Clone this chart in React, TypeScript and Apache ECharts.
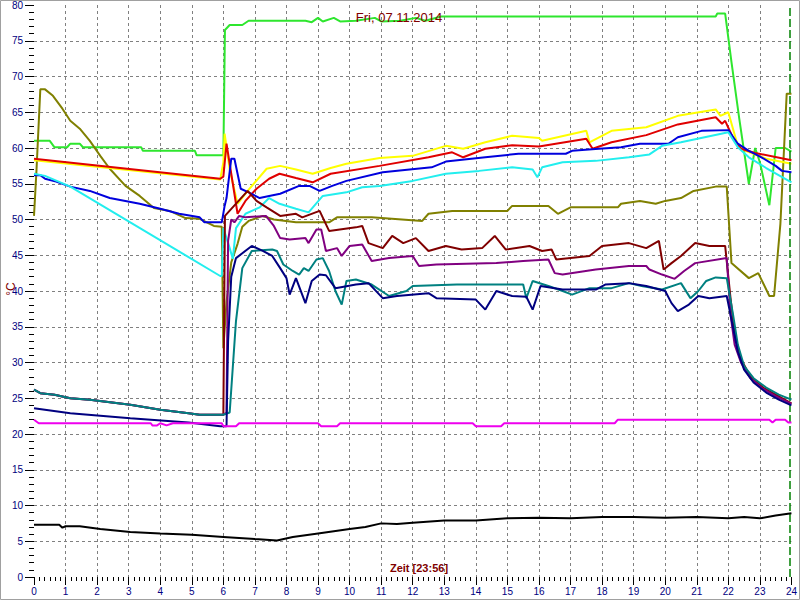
import React, { useEffect, useRef } from "react";
import * as echarts from "echarts";

const titleText = "Fri, 07.11.2014";
const xName = "Zeit [23:56]";
const yName = "°C";
const nowHour = 23.95;

const green = [[0,61],[0.5,61],[0.65,60.1],[1.05,60.1],[1.15,60.6],[1.45,60.6],[1.55,60.1],[3.4,60.1],[3.45,59.6],[5.1,59.6],[5.15,59],[6.0,59],[6.05,76.5],[6.2,77.2],[6.6,77.2],[6.8,77.8],[8.6,77.8],[8.8,77.6],[9.0,78.2],[9.15,77.7],[9.5,78.2],[9.7,77.7],[10.2,77.8],[10.8,78.2],[11.0,77.7],[11.6,77.8],[12.1,78.2],[12.4,77.8],[12.9,78.4],[21.6,78.4],[21.65,78.8],[21.9,78.8],[22.1,72],[22.35,64],[22.65,55],[22.85,60],[23.0,58],[23.3,52],[23.5,60],[23.8,60],[24,59.5]];
const olive = [[0,50.5],[0.08,57],[0.2,68.2],[0.35,68.2],[0.6,67.3],[0.9,65.5],[1.15,63.8],[1.45,62.7],[1.77,61],[2.1,58.9],[2.4,57.1],[2.9,54.7],[3.35,53.3],[3.8,51.6],[4.3,51.2],[4.8,50.2],[5.25,50.1],[5.7,49.1],[5.95,49],[6.0,32],[6.1,38.5],[6.25,44],[6.45,46.6],[6.6,49],[6.8,49.8],[7.25,50.5],[7.6,50],[8.3,49.6],[9.35,49.6],[9.6,50.3],[10.7,50.3],[12.3,49.8],[12.5,50.8],[13.25,51.2],[15,51.2],[15.15,51.9],[16.3,51.9],[16.6,50.8],[17,51.7],[18.5,51.7],[18.6,52.2],[19.2,52.6],[19.7,52.2],[20,52.6],[20.5,53],[20.9,54],[21.6,54.6],[21.95,54.6],[22.1,43.9],[22.65,41.8],[22.95,42.5],[23.3,39.3],[23.45,39.3],[23.65,49.4],[23.85,67.6],[24,67.6]];
const yellow = [[0,58.3],[5.9,55.6],[6.0,58],[6.04,62],[6.2,57],[6.45,52.2],[6.77,54],[7.37,57.1],[7.8,57.5],[8.3,57],[8.83,56.4],[9.4,57.2],[9.9,57.8],[10.95,58.6],[12,58.9],[13.05,60.3],[13.6,59.9],[14.3,60.8],[15.15,61.7],[16,61.4],[16.1,61],[17.5,62.4],[17.6,60.8],[18.3,62.4],[19.4,62.9],[20.4,64.5],[21.6,65.4],[21.75,64.5],[22,65],[22.3,60.3],[22.55,59.6],[23.2,58.5],[24,57.8]];
const red = [[0,58.5],[5.9,55.7],[6.0,56],[6.1,60.6],[6.45,50.8],[6.7,52.6],[7.05,54.3],[7.45,55.7],[7.78,56.4],[8.3,55.8],[8.83,55.2],[9.4,56.4],[10.95,57.5],[12.5,58.7],[13.25,59.4],[13.6,58.7],[14.3,59.9],[15.15,60.4],[16,60.2],[17.5,61.3],[17.7,59.9],[18.3,60.8],[19.4,61.8],[20.4,63.3],[21.6,64.3],[21.8,63.4],[21.9,63.8],[22.15,61.4],[22.4,59.9],[22.85,59.3],[24,58.3]];
const blue = [[0,56.2],[0.2,56.2],[0.35,55.7],[0.7,55.3],[1.15,54.6],[1.77,54],[2.4,53],[3.35,52.2],[4,51.5],[4.6,50.8],[5.25,50.3],[5.4,49.6],[5.95,49.6],[6.04,51.9],[6.1,53],[6.25,58.5],[6.35,58.5],[6.55,54.3],[6.8,53.8],[7.15,53],[7.45,53.3],[7.8,53.6],[8.4,54.7],[8.73,54.7],[9.05,54],[9.45,54.7],[9.9,55.4],[11.05,56.6],[12.6,57.3],[13.05,58.1],[14.3,58.7],[15.35,59.2],[16.85,59.2],[17.05,59.6],[17.9,59.9],[18.6,60.1],[19.2,60.6],[20.1,60.6],[20.4,61.5],[21.15,62.4],[22,62.5],[22.3,60.6],[22.65,59.6],[23.05,58.7],[23.5,57.5],[23.7,56.8],[24,56.6]];
const cyan = [[0,56.4],[0.35,56.1],[1.15,54.6],[5.9,42.1],[5.95,42.1],[6.0,48.8],[6.2,46],[6.3,44.5],[6.4,48.8],[6.7,50.8],[7.15,51.7],[7.45,53],[7.78,52.2],[8.3,51.5],[8.7,51],[9.15,53.3],[9.9,53.8],[10.4,54.5],[10.95,54.7],[12,55.4],[13.05,56.4],[14.1,56.8],[15.15,57.3],[15.8,57],[15.95,55.9],[16.1,57.3],[16.75,58],[17.8,58.2],[18.85,58.7],[19.5,59.1],[19.9,60.3],[20.5,60.8],[22,62.2],[22.3,60.1],[22.65,58.7],[23.2,57.2],[24,55.2]];
const maroon = [[0,26.2],[0.2,25.7],[0.65,25.5],[1.15,25],[1.77,24.8],[3.05,24.1],[4,23.4],[4.9,22.9],[5.25,22.7],[6.0,22.7],[6.05,50.5],[6.77,54],[7.05,52.6],[7.37,51.7],[7.8,50.5],[8.3,50.8],[8.5,50.3],[9.05,51.2],[9.35,48.4],[10.2,48.9],[10.4,49.1],[10.6,46.7],[11.05,46],[11.35,47.7],[11.7,46.7],[12.1,47.4],[12.5,45.6],[13.05,46.3],[13.55,45.8],[14.2,46],[14.6,47.7],[14.95,45.8],[15.7,46.3],[16.1,45.6],[16.4,45.8],[16.55,44.4],[17.6,44.9],[18,46.3],[18.85,46.7],[19.4,46],[19.8,47],[19.95,43],[20.2,43.9],[20.5,44.9],[20.95,46.7],[21.4,46.3],[21.9,46.3],[22.07,39],[22.2,34],[22.4,30.5],[22.7,28],[23.1,26.5],[23.5,25.5],[24,24.3]];
const purple = [[0,26.2],[0.2,25.7],[0.65,25.5],[1.15,25],[1.77,24.8],[3.05,24.1],[4,23.4],[4.9,22.9],[5.25,22.7],[6.0,22.7],[6.1,23],[6.15,47],[6.25,50],[6.35,49.6],[6.5,50.5],[6.7,50.3],[7.35,50.5],[7.6,49.1],[7.8,47.4],[8.1,47.2],[8.6,47.4],[8.7,46.7],[8.95,48.6],[9.1,48.6],[9.25,45.6],[9.6,46],[9.75,44.9],[10,46.3],[10.4,46.5],[10.7,44.2],[11.25,44.6],[12,44.9],[12.2,43.5],[12.75,43.7],[14.65,43.9],[15.5,44.2],[16.3,44.4],[16.5,42.5],[16.75,42.3],[17.8,43],[18.85,43.5],[19.4,43.5],[19.5,43],[19.9,42.3],[20.3,41.7],[20.6,42.8],[20.95,43.9],[21.95,44.6],[22.07,36.7],[22.2,32.5],[22.4,30],[22.7,27.8],[23.1,26.3],[23.5,25.3],[24,24.2]];
const teal = [[0,26.2],[0.2,25.7],[0.65,25.5],[1.15,25],[1.77,24.8],[3.05,24.1],[4,23.4],[4.9,22.9],[5.25,22.7],[6.0,22.7],[6.2,23],[6.4,35.8],[6.6,43.2],[6.9,45.6],[7.55,45.8],[7.7,45.6],[7.9,43.7],[8.2,42.8],[8.4,42.3],[8.55,43.2],[8.7,42.8],[8.95,44.4],[9.15,44.6],[9.35,42.8],[9.55,40],[9.75,38.1],[9.9,41.4],[10.2,41.6],[10.7,40.9],[11.25,39.3],[11.8,40],[12,40.7],[13.4,40.9],[15.5,40.9],[15.6,39],[15.8,41.4],[16.3,40.7],[16.75,40],[17.05,39.5],[17.6,40.4],[18.3,40.4],[18.85,41.1],[19.25,40.7],[19.9,40.2],[20.5,41.1],[20.8,39],[21.05,40],[21.3,41.4],[21.6,41.9],[21.95,41.8],[22.15,36.7],[22.3,32.5],[22.5,29.5],[22.8,27.8],[23.2,26.5],[23.6,25.5],[24,24.8]];
const navy = [[0,23.6],[1.15,22.9],[3.05,22.2],[4.9,21.6],[5.9,21.1],[6.1,21.1],[6.15,33],[6.25,42],[6.4,44.6],[6.9,46.3],[7.25,45.6],[7.55,44.9],[7.8,43.2],[8,41.8],[8.1,39.5],[8.3,41.8],[8.6,38.3],[8.8,41.4],[9.05,42.3],[9.25,42.2],[9.55,40.4],[10.2,40.9],[10.6,41.1],[11.05,39],[11.5,39.3],[12.5,39.7],[12.75,39],[14,38.8],[14.3,37.4],[14.65,40],[15.15,39.3],[15.6,39.2],[15.8,37.4],[16.05,40.7],[16.75,40.2],[17.8,40.2],[18.1,40.9],[18.85,41.1],[19.4,40.7],[20,40],[20.2,38.3],[20.4,37.2],[20.75,38.1],[21.05,39.3],[21.4,39],[21.95,39.3],[22.1,36],[22.3,31.5],[22.5,29],[22.8,27.2],[23.2,25.8],[23.6,24.8],[24,24]];
const magenta = [[0,22],[0.15,21.5],[3.7,21.5],[3.75,21.2],[3.9,21.2],[4.0,21.5],[4.2,21.2],[4.4,21.5],[5.95,21.5],[6.0,21.1],[6.4,21.1],[6.5,21.5],[9.0,21.5],[9.1,21.1],[9.6,21.1],[9.7,21.5],[13.9,21.5],[14.0,21.1],[14.8,21.1],[14.9,21.5],[18.4,21.5],[18.5,22],[23.3,22],[23.4,21.6],[23.5,22],[23.8,22],[23.9,21.6],[24,21.6]];
const black = [[0,7.3],[0.8,7.3],[0.9,6.9],[1,7.1],[1.45,7.1],[2.1,6.7],[3.05,6.3],[4,6.1],[5,5.9],[6,5.6],[7,5.3],[7.7,5.1],[8.2,5.6],[9,6.1],[10,6.7],[10.5,7],[11,7.5],[11.5,7.4],[12,7.6],[13,7.9],[14,7.9],[15,8.2],[16,8.3],[17,8.2],[18,8.4],[19,8.4],[20,8.3],[21,8.4],[22,8.2],[22.5,8.4],[23,8.2],[23.5,8.6],[24,8.9]];

const seriesList: [string, number[][], string][] = [
  ["S1", green, "#2ee62e"],
  ["S2", olive, "#808000"],
  ["S3", yellow, "#ffff00"],
  ["S4", red, "#e00000"],
  ["S5", blue, "#0000dd"],
  ["S6", cyan, "#22eeee"],
  ["S7", maroon, "#800000"],
  ["S8", purple, "#800080"],
  ["S9", teal, "#008080"],
  ["S10", navy, "#000080"],
  ["S11", magenta, "#ee00ee"],
  ["S12", black, "#000000"],
];

export default function App() {
  const ref = useRef<HTMLDivElement>(null);
  useEffect(() => {
    if (!ref.current) return;
    const chart = echarts.init(ref.current, null, { renderer: "svg" });
    const font = "Liberation Sans";
    const series: any[] = seriesList.map(([name, data, color], i) => ({
      name,
      type: "line",
      data,
      showSymbol: false,
      lineStyle: { color, width: 2 },
      itemStyle: { color },
      z: 2 + i,
      ...(i === seriesList.length - 1
        ? {
            markLine: {
              silent: true,
              symbol: "none",
              label: { show: false },
              lineStyle: { color: "#008000", type: [8, 3], width: 1.5 },
              data: [{ xAxis: nowHour }],
            },
          }
        : {}),
    }));
    chart.setOption({
      animation: false,
      backgroundColor: "#ffffff",
      grid: { left: 34, right: 7, top: 5, bottom: 23 },
      xAxis: {
        type: "value",
        min: 0,
        max: 24,
        interval: 1,
        axisLine: { show: false },
        axisTick: { show: true, length: 8, lineStyle: { color: "#000" } },
        minorTick: { show: true, splitNumber: 6, length: 4, lineStyle: { color: "#000" } },
        axisLabel: { color: "#000080", fontSize: 10, fontFamily: font, margin: 9 },
        splitLine: { show: true, showMinLine: false, showMaxLine: false, lineStyle: { color: "#808080", type: [3, 3], width: 1 } },
      },
      yAxis: {
        type: "value",
        min: 0,
        max: 80,
        interval: 5,
        axisLine: { show: false },
        axisTick: { show: true, length: 9, lineStyle: { color: "#000" } },
        minorTick: { show: true, splitNumber: 5, length: 5, lineStyle: { color: "#000" } },
        axisLabel: { color: "#000080", fontSize: 10, fontFamily: font, margin: 11 },
        splitLine: { show: true, showMinLine: false, showMaxLine: false, lineStyle: { color: "#808080", type: [3, 3], width: 1 } },
      },
      graphic: [
        {
          type: "rect",
          z: 200,
          silent: true,
          shape: { x: 0.5, y: 0.5, width: 799, height: 599 },
          style: { fill: "none", stroke: "#a0a0a0", lineWidth: 1 },
        },
        {
          type: "text",
          x: 399,
          y: 17,
          z: 200,
          style: { text: titleText, fill: "#800000", fontSize: 13, fontFamily: font, align: "center", verticalAlign: "middle" },
        },
        {
          type: "text",
          x: 419,
          y: 568,
          z: 200,
          style: { text: xName, fill: "#800000", fontSize: 11, fontWeight: "bold", fontFamily: font, align: "center", verticalAlign: "middle" },
        },
        {
          type: "text",
          x: 11,
          y: 289,
          rotation: Math.PI / 2,
          z: 200,
          style: { text: yName, fill: "#800000", fontSize: 12, fontFamily: font, align: "center", verticalAlign: "middle" },
        },
      ],
      series,
    });
    return () => chart.dispose();
  }, []);
  return (
    <div
      ref={ref}
      style={{ position: "fixed", left: 0, top: 0, width: 800, height: 600 }}
    />
  );
}
